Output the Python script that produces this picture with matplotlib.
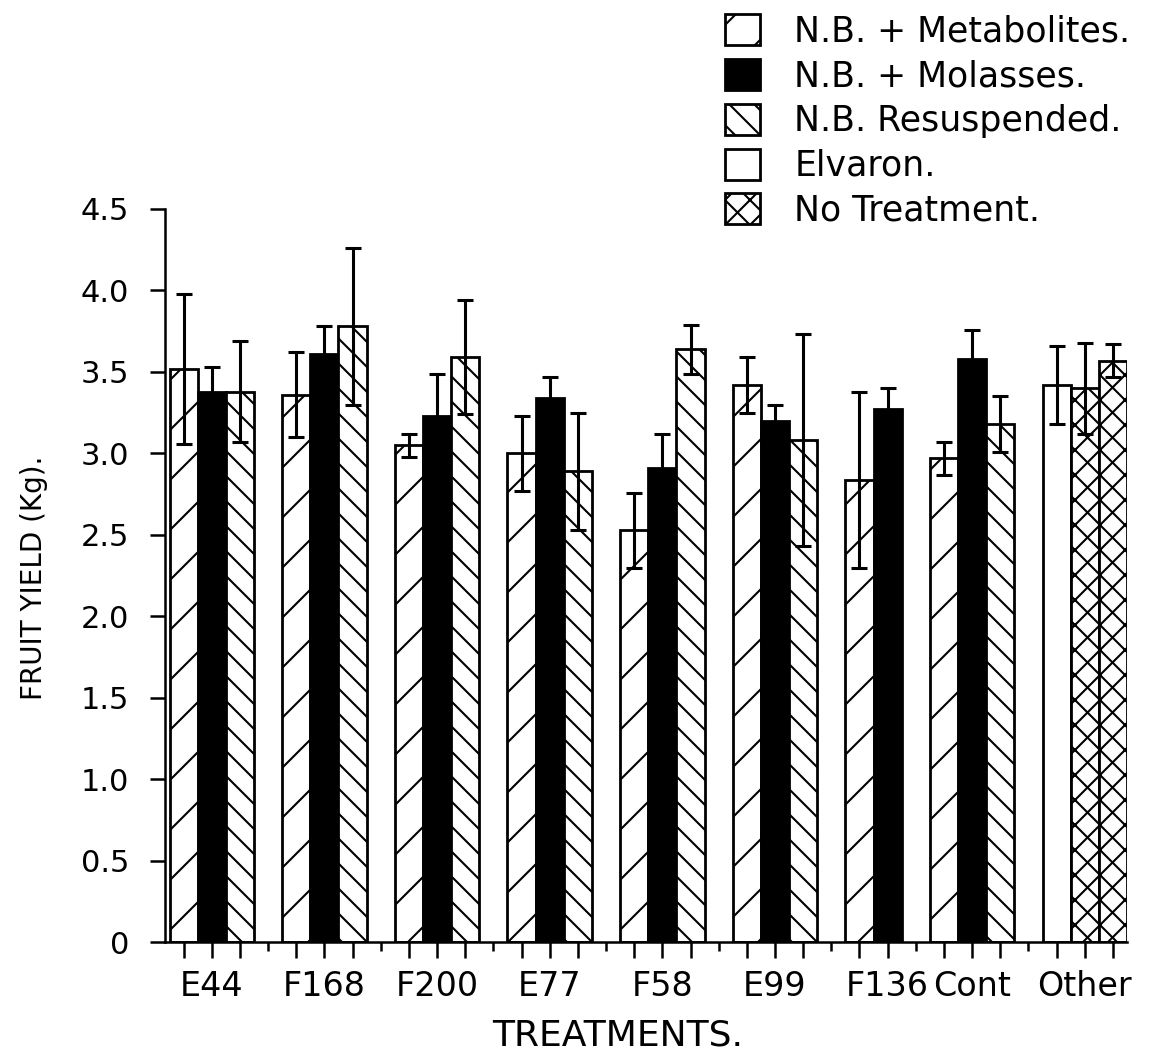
import numpy as np
import matplotlib
matplotlib.use("Agg")
import matplotlib.pyplot as plt
from matplotlib.backend_bases import GraphicsContextBase

# the scan uses much sparser hatching than matplotlib's default density
_get_hatch_path = GraphicsContextBase.get_hatch_path
GraphicsContextBase.get_hatch_path = lambda self, density=2.0: _get_hatch_path(self, density)

treatments = ["E44", "F168", "F200", "E77", "F58", "E99", "F136", "Cont", "Other"]
group_sizes = [3, 3, 3, 3, 3, 3, 2, 3, 3]

# first 8 groups (E44 .. Cont); F136 has no resuspended bar
metab = [3.52, 3.36, 3.05, 3.00, 2.53, 3.42, 2.84, 2.97]
metab_err = [0.46, 0.26, 0.07, 0.23, 0.23, 0.17, 0.54, 0.10]
molas = [3.38, 3.61, 3.23, 3.34, 2.91, 3.20, 3.27, 3.58]
molas_err = [0.15, 0.17, 0.26, 0.13, 0.21, 0.10, 0.13, 0.18]
resus = [3.38, 3.78, 3.59, 2.89, 3.64, 3.08, None, 3.18]
resus_err = [0.31, 0.48, 0.35, 0.36, 0.15, 0.65, None, 0.17]

# "Other" group
elvaron = [3.42]
elvaron_err = [0.24]
no_treat = [3.40, 3.57]
no_treat_err = [0.28, 0.10]

plt.rcParams["hatch.linewidth"] = 1.5
plt.rcParams["font.family"] = "DejaVu Sans"

sizes = np.array(group_sizes)
starts = np.concatenate([[0], np.cumsum(sizes[:-1] + 1)])

fig = plt.figure(figsize=(11.5, 10.58), dpi=100)
ax = fig.add_axes([0.1435, 0.1092, 0.8365, 0.6933])

bar_kw = dict(width=1.0, edgecolor="black", linewidth=2.0, zorder=2)
err_kw = dict(fmt="none", ecolor="black", elinewidth=2.2, capsize=6, capthick=2.2, zorder=3)

x_met = starts[:8]
x_mol = starts[:8] + 1
res_idx = [i for i, v in enumerate(resus) if v is not None]
x_res = starts[res_idx] + 2
res_vals = [resus[i] for i in res_idx]
res_errs = [resus_err[i] for i in res_idx]
x_elv = starts[8:9]
x_nt = starts[8] + np.arange(1, 3)

b_met = ax.bar(x_met, metab, color="white", hatch="//", **bar_kw)
b_mol = ax.bar(x_mol, molas, color="black", **bar_kw)
b_res = ax.bar(x_res, res_vals, color="white", hatch="\\\\\\\\", **bar_kw)
b_elv = ax.bar(x_elv, elvaron, color="white", **bar_kw)
b_nt = ax.bar(x_nt, no_treat, color="white", hatch="xxxx", **bar_kw)

ax.errorbar(x_met, metab, yerr=metab_err, **err_kw)
ax.errorbar(x_mol, molas, yerr=molas_err, **err_kw)
ax.errorbar(x_res, res_vals, yerr=res_errs, **err_kw)
ax.errorbar(x_elv, elvaron, yerr=elvaron_err, **err_kw)
ax.errorbar(x_nt, no_treat, yerr=no_treat_err, **err_kw)

ax.set_xlim(-0.66, 33.5)
ax.set_ylim(0, 4.5)

for side in ["top", "right"]:
    ax.spines[side].set_visible(False)
ax.spines["left"].set_linewidth(1.8)
ax.spines["bottom"].set_linewidth(1.8)

# x ticks: one per bar, short ones in the gaps, names under the middle bar
bar_slots = np.concatenate([s + np.arange(n) for s, n in zip(starts, sizes)])
gap_slots = starts[:-1] + sizes[:-1]
label_slots = starts + 1
xlabels = [treatments[list(label_slots).index(s)] if s in label_slots else "" for s in bar_slots]
ax.set_xticks(bar_slots)
ax.set_xticklabels(xlabels, fontsize=24)
ax.set_xticks(gap_slots, minor=True)
ax.tick_params(axis="x", which="major", length=11.5, width=1.8, pad=8)
ax.tick_params(axis="x", which="minor", length=6.5, width=1.8)

yticks = np.arange(0, 4.51, 0.5)
ax.set_yticks(yticks)
ax.set_yticklabels(["0"] + [f"{v:.1f}" for v in yticks[1:]], fontsize=22)
ax.tick_params(axis="y", length=11, width=1.8, pad=15)

ax.set_ylabel("FRUIT YIELD (Kg).", fontsize=20)
ax.yaxis.set_label_coords(-0.122, 0.497)
ax.set_xlabel("TREATMENTS.", fontsize=26)
ax.xaxis.set_label_coords(0.47, -0.103)

fig.legend([b_met, b_mol, b_res, b_elv, b_nt],
           ["N.B. + Metabolites.", "N.B. + Molasses.", "N.B. Resuspended.",
            "Elvaron.", "No Treatment."],
           loc="upper left", bbox_to_anchor=(725 / 1150, 1 - 14 / 1058),
           frameon=False, fontsize=25, handlelength=1.0, handleheight=1.0,
           handletextpad=1.0, labelspacing=0.3, borderpad=0, borderaxespad=0)

fig.savefig("out.png", dpi=100)
